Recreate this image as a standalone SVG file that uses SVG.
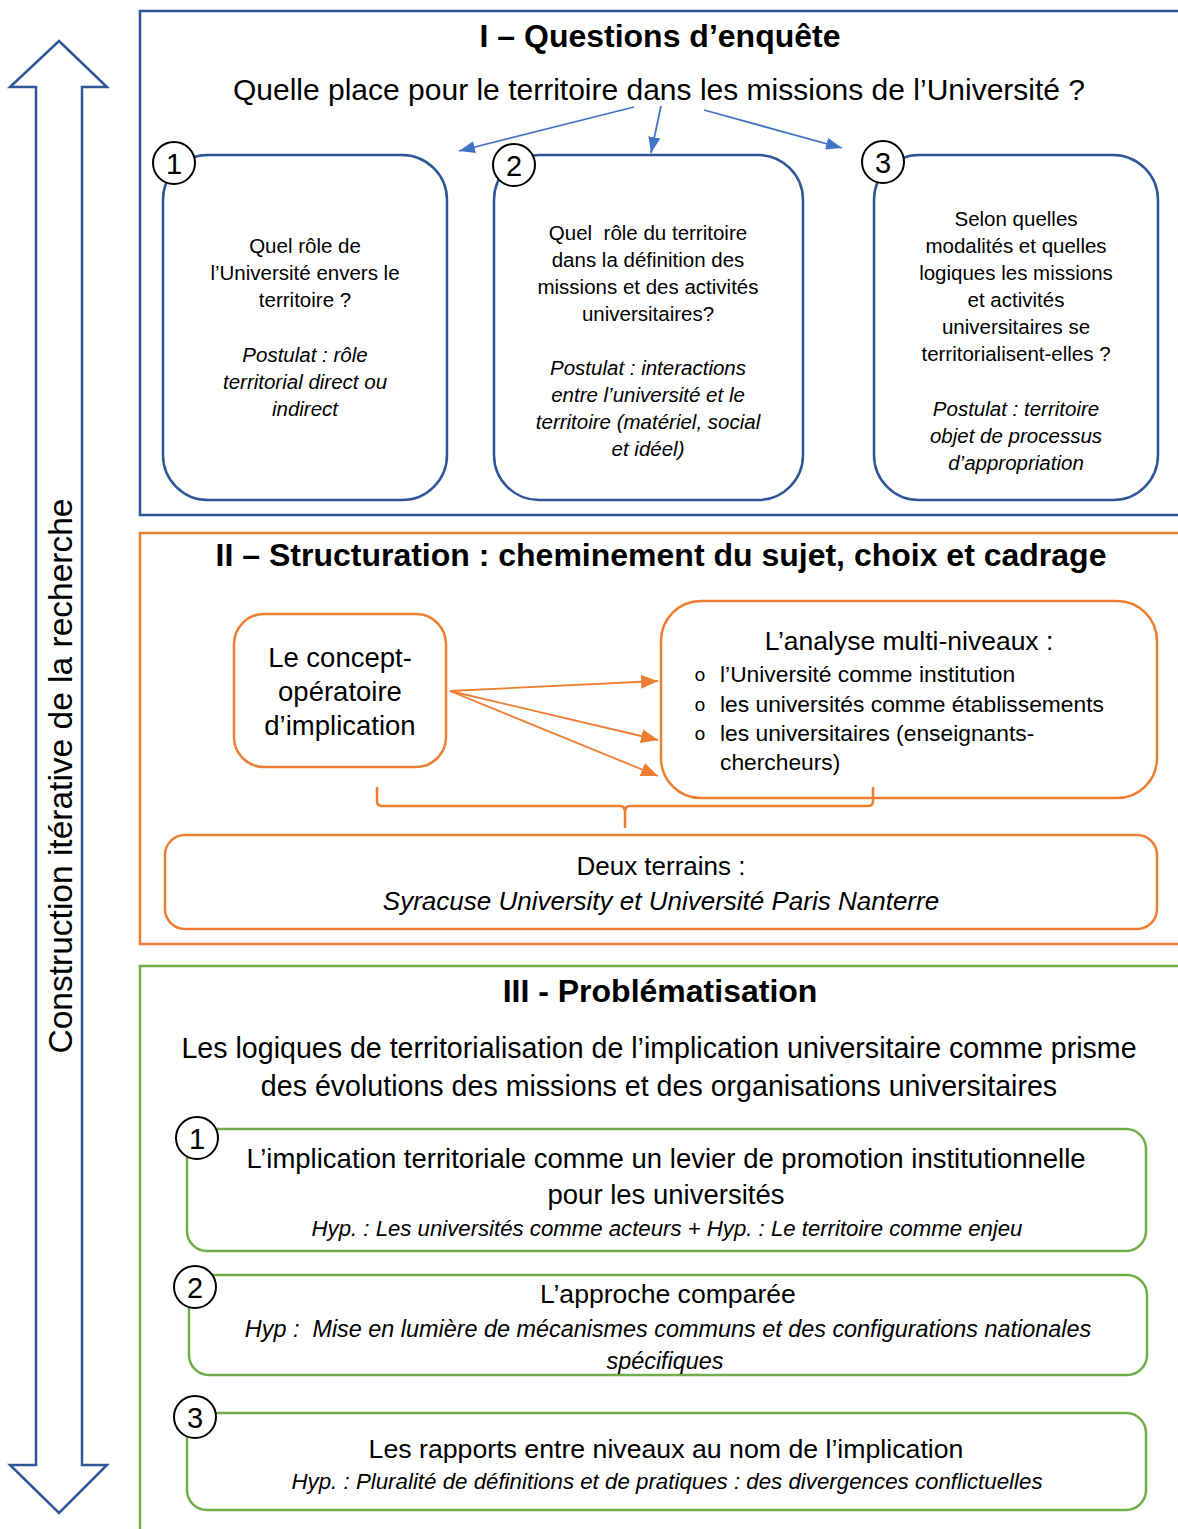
<svg xmlns="http://www.w3.org/2000/svg" width="1178" height="1529" viewBox="0 0 1178 1529">
<style>
text{font-family:"Liberation Sans",Arial,sans-serif;fill:#000}
.t{font-weight:bold;font-size:32px;text-anchor:middle}
.c{text-anchor:middle}
.i{font-style:italic}
.bl{fill:none;stroke:#2F5597;stroke-width:2.5}
.or{fill:none;stroke:#ED7D31;stroke-width:2.5}
.gr{fill:none;stroke:#70AD47;stroke-width:2.5}
.num circle{fill:#fff;stroke:#000;stroke-width:2}
.num text{font-size:29px;text-anchor:middle}
.q{font-size:20.5px;text-anchor:middle}
.bu{font-family:"Liberation Mono",monospace;font-size:19px;text-anchor:middle}
</style>
<defs>
<marker id="ab" markerWidth="16" markerHeight="12" refX="16" refY="6" orient="auto" markerUnits="userSpaceOnUse" viewBox="0 0 16 12"><path d="M0,0 L16,6 L0,12 z" fill="#4472C4"/></marker>
<marker id="ao" markerWidth="17" markerHeight="14" refX="17" refY="7" orient="auto" markerUnits="userSpaceOnUse" viewBox="0 0 17 14"><path d="M0,0 L17,7 L0,14 z" fill="#ED7D31"/></marker>
</defs>
<rect width="1178" height="1529" fill="#fff"/>

<g id="double-arrow">
<path d="M59,41 L107,87 L82,87 L82,1465 L107,1465 L59,1513 L10,1465 L36,1465 L36,87 L10,87 Z" fill="#fff" stroke="#2F5597" stroke-width="2.5"/>
<text transform="translate(72,776) rotate(-90)" class="c" font-size="33.5">Construction itérative de la recherche</text>
</g>

<g id="section1">
<rect x="140" y="11" width="1060" height="504" class="bl"/>
<text x="660" y="47" class="t">I – Questions d’enquête</text>
<text x="659" y="100" class="c" font-size="30">Quelle place pour le territoire dans les missions de l’Université ?</text>
</g>

<g id="q1">
<rect x="163" y="155" width="284" height="345" rx="45" class="bl"/>
<text class="q"><tspan x="305" y="253">Quel rôle de</tspan><tspan x="305" y="280">l’Université envers le</tspan><tspan x="305" y="307">territoire ?</tspan><tspan x="305" y="362" class="i">Postulat : rôle</tspan><tspan x="305" y="389" class="i">territorial direct ou</tspan><tspan x="305" y="416" class="i">indirect</tspan></text>
<g class="num"><circle cx="174" cy="163" r="21"/><text x="174" y="174">1</text></g>
</g>

<g id="q2">
<rect x="494" y="155" width="309" height="345" rx="45" class="bl"/>
<text class="q" xml:space="preserve"><tspan x="648" y="240">Quel  rôle du territoire</tspan><tspan x="648" y="267">dans la définition des</tspan><tspan x="648" y="294">missions et des activités</tspan><tspan x="648" y="321">universitaires?</tspan><tspan x="648" y="375" class="i">Postulat : interactions</tspan><tspan x="648" y="402" class="i">entre l’université et le</tspan><tspan x="648" y="429" class="i">territoire (matériel, social</tspan><tspan x="648" y="456" class="i">et idéel)</tspan></text>
<g class="num"><circle cx="514" cy="165" r="21"/><text x="514" y="176">2</text></g>
</g>

<g id="q3">
<rect x="874" y="155" width="284" height="345" rx="45" class="bl"/>
<text class="q"><tspan x="1016" y="226">Selon quelles</tspan><tspan x="1016" y="253">modalités et quelles</tspan><tspan x="1016" y="280">logiques les missions</tspan><tspan x="1016" y="307">et activités</tspan><tspan x="1016" y="334">universitaires se</tspan><tspan x="1016" y="361">territorialisent-elles ?</tspan><tspan x="1016" y="416" class="i">Postulat : territoire</tspan><tspan x="1016" y="443" class="i">objet de processus</tspan><tspan x="1016" y="470" class="i">d’appropriation</tspan></text>
<g class="num"><circle cx="883" cy="162" r="21"/><text x="883" y="173">3</text></g>
</g>

<g id="section2">
<rect x="140" y="533" width="1060" height="411" class="or"/>
<text x="661" y="566" class="t">II – Structuration : cheminement du sujet, choix et cadrage</text>
</g>

<g id="concept">
<rect x="234" y="614" width="212" height="153" rx="30" class="or"/>
<text class="c" font-size="27.5"><tspan x="340" y="667">Le concept-</tspan><tspan x="340" y="701">opératoire</tspan><tspan x="340" y="735">d’implication</tspan></text>
</g>

<g id="multi">
<rect x="661" y="601" width="496" height="197" rx="40" class="or"/>
<text x="909" y="650" class="c" font-size="26.5">L’analyse multi-niveaux :</text>
<g font-size="22.8">
<text x="700" y="681" class="bu">o</text><text x="720" y="682">l’Université comme institution</text>
<text x="700" y="711" class="bu">o</text><text x="720" y="712">les universités comme établissements</text>
<text x="700" y="740" class="bu">o</text><text x="720" y="741">les universitaires (enseignants-</text>
<text x="720" y="770">chercheurs)</text>
</g>
</g>

<g id="terrains">
<rect x="165" y="835" width="992" height="94" rx="20" class="or"/>
<text x="661" y="875" class="c" font-size="26">Deux terrains :</text>
<text x="661" y="910" class="c i" font-size="26">Syracuse University et Université Paris Nanterre</text>
</g>

<g id="section3">
<rect x="140" y="966" width="1060" height="600" class="gr"/>
<text x="660" y="1002" class="t">III - Problématisation</text>
<text x="659" y="1058" class="c" font-size="28.6">Les logiques de territorialisation de l’implication universitaire comme prisme</text>
<text x="659" y="1096" class="c" font-size="28.6">des évolutions des missions et des organisations universitaires</text>
</g>

<g id="p1">
<rect x="187" y="1129" width="959" height="122" rx="20" class="gr"/>
<text x="666" y="1168" class="c" font-size="27.5">L’implication territoriale comme un levier de promotion institutionnelle</text>
<text x="666" y="1204" class="c" font-size="27.5">pour les universités</text>
<text x="667" y="1236" class="c i" font-size="22.2">Hyp. : Les universités comme acteurs + Hyp. : Le territoire comme enjeu</text>
<g class="num"><circle cx="197" cy="1138" r="21"/><text x="197" y="1149">1</text></g>
</g>

<g id="p2">
<rect x="189" y="1275" width="958" height="100" rx="20" class="gr"/>
<text x="668" y="1303" class="c" font-size="26.6">L’approche comparée</text>
<text x="668" y="1337" class="c i" font-size="23.4" xml:space="preserve">Hyp :  Mise en lumière de mécanismes communs et des configurations nationales</text>
<text x="665" y="1369" class="c i" font-size="23.4">spécifiques</text>
<g class="num"><circle cx="195" cy="1287" r="21"/><text x="195" y="1298">2</text></g>
</g>

<g id="p3">
<rect x="187" y="1413" width="959" height="97" rx="20" class="gr"/>
<text x="666" y="1458" class="c" font-size="26.7">Les rapports entre niveaux au nom de l’implication</text>
<text x="667" y="1489" class="c i" font-size="22.3">Hyp. : Pluralité de définitions et de pratiques : des divergences conflictuelles</text>
<g class="num"><circle cx="195" cy="1417" r="21"/><text x="195" y="1428">3</text></g>
</g>

<g id="connectors">
<line x1="634" y1="107" x2="459" y2="151" stroke="#4472C4" stroke-width="1.8" marker-end="url(#ab)"/>
<line x1="661" y1="106" x2="651" y2="153" stroke="#4472C4" stroke-width="1.8" marker-end="url(#ab)"/>
<line x1="704" y1="110" x2="842" y2="148" stroke="#4472C4" stroke-width="1.8" marker-end="url(#ab)"/>
<line x1="450" y1="691" x2="658" y2="681" stroke="#ED7D31" stroke-width="1.8" marker-end="url(#ao)"/>
<line x1="450" y1="691" x2="658" y2="740" stroke="#ED7D31" stroke-width="1.8" marker-end="url(#ao)"/>
<line x1="450" y1="691" x2="658" y2="776" stroke="#ED7D31" stroke-width="1.8" marker-end="url(#ao)"/>
<path d="M377,787 L377,801 Q377,806 382,806 L620,806 Q625,806 625,812 L625,828 M625,812 Q625,806 630,806 L868,806 Q873,806 873,801 L873,787" fill="none" stroke="#ED7D31" stroke-width="2.5"/>
</g>
</svg>
